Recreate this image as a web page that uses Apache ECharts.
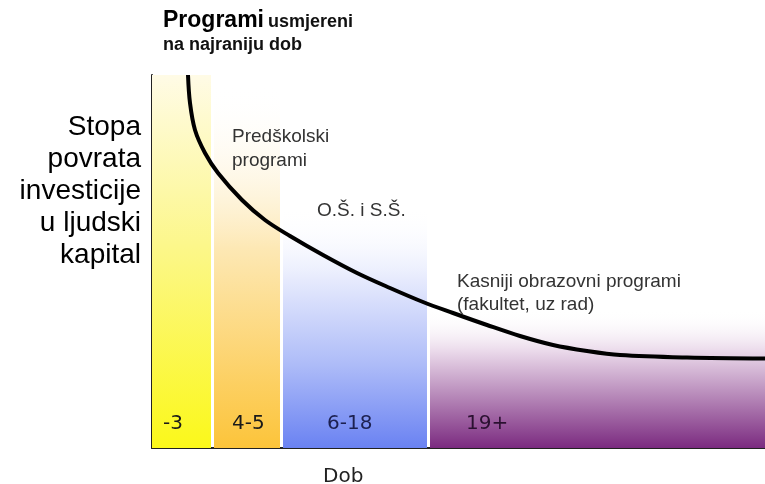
<!DOCTYPE html>
<html>
<head>
<meta charset="utf-8">
<script src="https://cdn.jsdelivr.net/npm/echarts@6/dist/echarts.min.js"></script>
<style>html,body{margin:0;padding:0;background:#fff}#c{width:765px;height:484px}</style>
</head>
<body>
<div id="c"></div>
<script>
// Band categories (age groups) and their extents on the horizontal axis
const bandLabels = ['-3', '4-5', '6-18', '19+'];
const bandStart = [0, 62, 131, 278];
const bandEnd = [59, 128, 275, 613];
const bandTop = [373, 363, 240, 138];

// Return-on-investment curve (x: position along age axis, y: rate of return)
const curveX = [36, 38, 43, 53, 66, 90, 113, 138, 171, 205, 238, 271, 301, 335, 368, 401, 435, 468, 535, 613];
const curveY = [373, 345, 318, 295, 275, 248, 228, 212, 193, 175, 160, 146, 135, 123, 112, 103, 97, 93, 90.5, 89.5];

const titleBold = 'Programi';
const titleRest = 'usmjereni';
const titleLine2 = 'na najraniju dob';
const yName = ['Stopa', 'povrata', 'investicije', 'u ljudski', 'kapital'];
const xName = 'Dob';

const bandColors = [
  [[0, '#fffbe6'], [0.45, '#fcf78c'], [1, '#fbf81a']],
  [[0, 'rgba(255,255,255,0)'], [0.45, '#fde8b4'], [1, '#fcc43a']],
  [[0, 'rgba(255,255,255,0)'], [0.3, '#e6eafd'], [0.65, '#aebcf8'], [1, '#6a82f2']],
  [[0, 'rgba(255,255,255,0)'], [0.3, '#ead9ea'], [1, '#7b2b80']]
];

function grad(stops) {
  return new echarts.graphic.LinearGradient(0, 0, 0, 1,
    stops.map(s => ({offset: s[0], color: s[1]})));
}

const chart = echarts.init(document.getElementById('c'), null, {renderer: 'canvas'});

const markData = bandLabels.map((l, i) => [
  {xAxis: bandStart[i], yAxis: bandTop[i], itemStyle: {color: grad(bandColors[i])}},
  {xAxis: bandEnd[i], yAxis: 0}
]);

const bandLabelX = [163, 232, 327, 466];
const bandLabelColor = ['#1a1a1a', '#1a1a1a', '#1c2050', '#2a1030'];

const FONT = '"Liberation Sans", Arial, sans-serif';
const VFONT = '"DejaVu Sans", Verdana, sans-serif';

const graphics = [];
yName.forEach((t, i) => {
  graphics.push({type: 'text', right: 765 - 141, top: 113 + i * 32, z: 100,
    style: {text: t, font: '28px ' + FONT, fill: '#000', textAlign: 'right'}});
});
graphics.push({type: 'text', left: 163, top: 9, z: 100,
  style: {text: titleBold, font: 'bold 23px ' + FONT, fill: '#000'}});
graphics.push({type: 'text', left: 268, top: 13, z: 100,
  style: {text: titleRest, font: 'bold 18px ' + FONT, fill: '#111'}});
graphics.push({type: 'text', left: 163, top: 36, z: 100,
  style: {text: titleLine2, font: 'bold 18px ' + FONT, fill: '#111'}});
graphics.push({type: 'text', left: 232, top: 125, z: 100,
  style: {text: 'Predškolski\nprogrami', font: '19px ' + FONT, fill: '#333', lineHeight: 24}});
graphics.push({type: 'text', left: 317, top: 201, z: 100,
  style: {text: 'O.Š. i S.Š.', font: '19px ' + FONT, fill: '#333'}});
graphics.push({type: 'text', left: 457, top: 270, z: 100,
  style: {text: 'Kasniji obrazovni programi\n(fakultet, uz rad)', font: '19px ' + FONT, fill: '#333', lineHeight: 23}});
bandLabels.forEach((t, i) => {
  graphics.push({type: 'text', left: bandLabelX[i], top: 414, z: 100,
    style: {text: t, font: '20px ' + VFONT, fill: bandLabelColor[i]}});
});
graphics.push({type: 'text', left: 323, top: 467, z: 100,
  style: {text: xName, font: '20px ' + VFONT, fill: '#222'}});

chart.setOption({
  animation: false,
  backgroundColor: '#fff',
  grid: {left: 152, right: 0, top: 75, bottom: 36, containLabel: false},
  xAxis: {type: 'value', min: 0, max: 613,
    axisLine: {show: true, lineStyle: {color: '#222', width: 2}},
    axisTick: {show: false}, axisLabel: {show: false}, splitLine: {show: false}},
  yAxis: {type: 'value', min: 0, max: 373,
    axisLine: {show: true, lineStyle: {color: '#222', width: 2}},
    axisTick: {show: false}, axisLabel: {show: false}, splitLine: {show: false}},
  series: [{
    type: 'line',
    data: curveX.map((x, i) => [x, curveY[i]]),
    smooth: 0.35,
    showSymbol: false,
    lineStyle: {color: '#000', width: 4},
    z: 5,
    markArea: {silent: true, data: markData, z: 1}
  }],
  graphic: graphics
});
</script>
</body>
</html>
